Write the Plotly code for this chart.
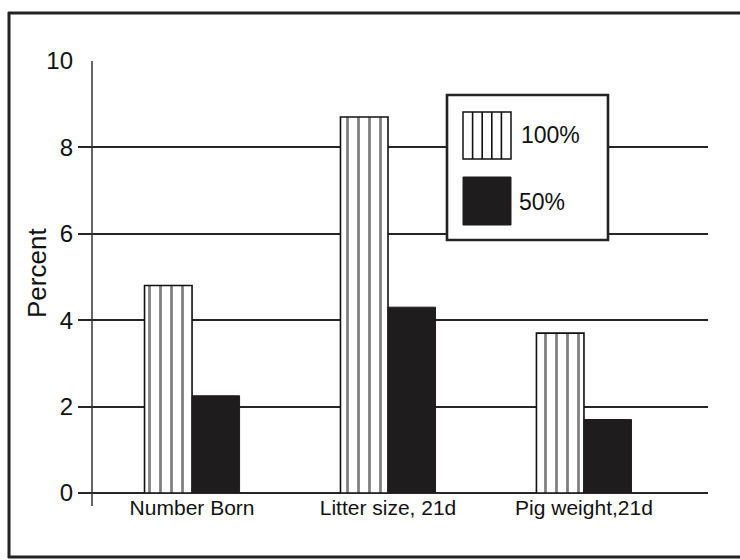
import plotly.graph_objects as go

categories = ["Number Born", "Litter size, 21d", "Pig weight,21d"]
series_names = ["100%", "50%"]
values_100 = [4.8, 8.7, 3.7]
values_50 = [2.25, 4.3, 1.7]
y_ticks = [0, 2, 4, 6, 8, 10]

W, H = 740, 560
L, R, T, B = 78, 32, 60, 67
PW, PH = W - L - R, H - T - B
YMAX = 10.02


def px(x):
    return (x - L) / PW


def py(y):
    return (H - B - y) / PH


INK = "#111111"
FONT = "Liberation Sans, Arial, sans-serif"

fig = go.Figure()
fig.add_trace(go.Bar(
    x=categories, y=values_100, name=series_names[0],
    marker=dict(color="white", line=dict(color=INK, width=1.6),
                pattern=dict(shape="|", size=11, solidity=0.25,
                             fgcolor="#000", bgcolor="white", fillmode="overlay")),
    showlegend=False,
))
fig.add_trace(go.Bar(
    x=categories, y=values_50, name=series_names[1],
    marker=dict(color="#1e1c1c", line=dict(color="#1e1c1c", width=1)),
    showlegend=False,
))

shapes = []
# y-axis line (offset from the grid start)
shapes.append(dict(type="line", xref="paper", yref="paper",
                   x0=px(92), x1=px(92), y0=py(61), y1=py(506),
                   line=dict(color="#333", width=1.5)))
# outer frame (left, top, bottom)
frame = dict(color="#222", width=3)
shapes.append(dict(type="line", xref="paper", yref="paper",
                   x0=px(9), x1=px(9), y0=py(12), y1=py(558), line=frame))
shapes.append(dict(type="line", xref="paper", yref="paper",
                   x0=px(8), x1=px(742), y0=py(13), y1=py(13), line=frame))
shapes.append(dict(type="line", xref="paper", yref="paper",
                   x0=px(8), x1=px(742), y0=py(557), y1=py(557), line=frame))
# legend box
shapes.append(dict(type="rect", xref="paper", yref="paper",
                   x0=px(447), x1=px(608), y0=py(240), y1=py(95),
                   fillcolor="white", line=dict(color="#222", width=2.6), layer="above"))
# legend patterned swatch
shapes.append(dict(type="rect", xref="paper", yref="paper",
                   x0=px(463), x1=px(511), y0=py(159), y1=py(112),
                   fillcolor="white", line=dict(color=INK, width=1.5), layer="above"))
for i in range(1, 5):
    xs = 463 + i * (511 - 463) / 5
    shapes.append(dict(type="line", xref="paper", yref="paper",
                       x0=px(xs), x1=px(xs), y0=py(159), y1=py(112),
                       line=dict(color=INK, width=1.6), layer="above"))
# legend solid swatch
shapes.append(dict(type="rect", xref="paper", yref="paper",
                   x0=px(463), x1=px(511), y0=py(225), y1=py(177),
                   fillcolor="#1e1c1c", line=dict(color="#1e1c1c", width=1), layer="above"))

annotations = [
    dict(text=series_names[0], xref="paper", yref="paper", x=px(519), y=py(135),
         xanchor="left", yanchor="middle", showarrow=False,
         font=dict(family=FONT, size=23, color=INK)),
    dict(text=series_names[1], xref="paper", yref="paper", x=px(517), y=py(202),
         xanchor="left", yanchor="middle", showarrow=False,
         font=dict(family=FONT, size=23, color=INK)),
    dict(text="Percent", xref="paper", yref="paper", x=px(37), y=py(273),
         xanchor="center", yanchor="middle", textangle=-90, showarrow=False,
         font=dict(family=FONT, size=26, color=INK)),
]

fig.update_layout(
    width=W, height=H,
    margin=dict(l=L, r=R, t=T, b=B, pad=0),
    paper_bgcolor="white", plot_bgcolor="white",
    barmode="group", bargap=0.515, bargroupgap=0,
    shapes=shapes, annotations=annotations,
    showlegend=False,
)
fig.update_xaxes(
    type="category", range=[-0.582, 2.633],
    showgrid=False, showline=False, zeroline=False, ticks="",
    tickfont=dict(family=FONT, size=21, color=INK),
)
fig.update_yaxes(
    range=[0, YMAX], tickvals=y_ticks, ticktext=[str(v) for v in y_ticks],
    showgrid=True, gridcolor="#262626", gridwidth=1.6,
    zeroline=True, zerolinecolor="#262626", zerolinewidth=1.8,
    showline=False, ticks="", ticklabelstandoff=4,
    tickfont=dict(family=FONT, size=24, color=INK),
)

fig.write_html("out.html", config={"displayModeBar": False},
               post_script="document.body.style.margin='0';document.body.style.padding='0';document.body.style.overflow='hidden';")
